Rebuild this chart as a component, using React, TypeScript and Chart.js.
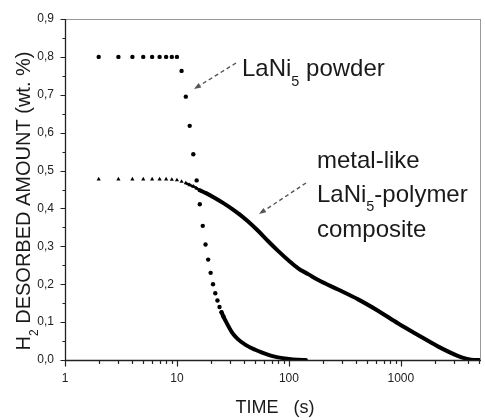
import React, { useEffect, useRef } from 'react';
import { Chart, registerables } from 'chart.js';

Chart.register(...registerables);

// ---- Data ----
const powderTime = [2, 3, 4, 5, 6, 7, 8, 9, 10, 11, 12, 13, 14, 15, 16, 17, 18, 19, 20, 21, 22, 23, 24, 25, 26, 27, 31, 35, 41, 50, 57, 70, 80, 100, 120, 142];
const powderAmount = [0.8, 0.8, 0.8, 0.8, 0.8, 0.8, 0.8, 0.8, 0.8, 0.763, 0.695, 0.618, 0.543, 0.474, 0.411, 0.354, 0.305, 0.265, 0.23, 0.2, 0.176, 0.157, 0.14, 0.126, 0.115, 0.105, 0.073, 0.055, 0.04, 0.027, 0.02, 0.011, 0.007, 0.003, 0.001, 0.0];

const compositeTime = [2, 3, 4, 5, 6, 7, 8, 9, 10, 11, 12, 13, 14, 15, 16, 18, 22, 26, 31, 36, 43, 53, 65, 80, 100, 121, 150, 183, 275, 415, 625, 940, 1420, 2140, 3220, 3900, 4500, 5000];
const compositeAmount = [0.477, 0.477, 0.477, 0.477, 0.477, 0.477, 0.477, 0.476, 0.475, 0.471, 0.467, 0.462, 0.458, 0.453, 0.448, 0.441, 0.427, 0.414, 0.399, 0.385, 0.366, 0.341, 0.314, 0.288, 0.262, 0.242, 0.226, 0.211, 0.186, 0.16, 0.13, 0.097, 0.066, 0.036, 0.011, 0.003, 0.0, 0.0];

const xMajorTicks = [1, 10, 100, 1000];
const yTickValues = [0, 0.1, 0.2, 0.3, 0.4, 0.5, 0.6, 0.7, 0.8, 0.9];

const X_MIN = 1;
const X_MAX = 5200;
const Y_MIN = 0;
const Y_MAX = 0.9;

const xAxisTitle = 'TIME   (s)';
const yAxisTitle: [string, boolean][] = [['H', false], ['2', true], [' DESORBED AMOUNT (wt. %)', false]];
const powderLabel: [string, boolean][][] = [[['LaNi', false], ['5', true], [' powder', false]]];
const compositeLabel: [string, boolean][][] = [
  [['metal-like', false]],
  [['LaNi', false], ['5', true], ['-polymer', false]],
  [['composite', false]],
];

const FONT = '"Liberation Sans", Arial, Helvetica, sans-serif';

function drawRich(ctx: CanvasRenderingContext2D, parts: [string, boolean][], x: number, y: number, size: number) {
  let cx = x;
  for (const [t, sub] of parts) {
    const s = sub ? size * 0.6 : size;
    ctx.font = `${s}px ${FONT}`;
    ctx.fillText(t, cx, sub ? y + size * 0.4 : y);
    cx += ctx.measureText(t).width;
  }
  return cx - x;
}

function richWidth(ctx: CanvasRenderingContext2D, parts: [string, boolean][], size: number) {
  let w = 0;
  for (const [t, sub] of parts) {
    ctx.font = `${sub ? size * 0.6 : size}px ${FONT}`;
    w += ctx.measureText(t).width;
  }
  return w;
}

function dashedArrow(ctx: CanvasRenderingContext2D, x1: number, y1: number, x2: number, y2: number) {
  const ang = Math.atan2(y2 - y1, x2 - x1);
  const headLen = 7;
  const bx = x2 - Math.cos(ang) * headLen;
  const by = y2 - Math.sin(ang) * headLen;
  ctx.save();
  ctx.strokeStyle = '#555';
  ctx.fillStyle = '#555';
  ctx.lineWidth = 1.4;
  ctx.setLineDash([4, 3]);
  ctx.beginPath();
  ctx.moveTo(x1, y1);
  ctx.lineTo(bx, by);
  ctx.stroke();
  ctx.setLineDash([]);
  ctx.beginPath();
  ctx.moveTo(x2, y2);
  ctx.lineTo(bx + Math.sin(ang) * 2.6, by - Math.cos(ang) * 2.6);
  ctx.lineTo(bx - Math.sin(ang) * 2.6, by + Math.cos(ang) * 2.6);
  ctx.closePath();
  ctx.fill();
  ctx.restore();
}

const decorPlugin = {
  id: 'decor',
  afterDatasetsDraw(chart: any) {
    const ctx: CanvasRenderingContext2D = chart.ctx;
    const { left, right, top, bottom } = chart.chartArea;
    const xs = chart.scales.x;
    const ys = chart.scales.y;
    ctx.save();
    // frame
    ctx.strokeStyle = '#999';
    ctx.lineWidth = 1;
    ctx.beginPath();
    ctx.moveTo(left, top + 0.5);
    ctx.lineTo(right, top + 0.5);
    ctx.moveTo(right - 0.5, top);
    ctx.lineTo(right - 0.5, bottom);
    ctx.stroke();
    ctx.strokeStyle = '#222';
    ctx.lineWidth = 1.3;
    ctx.beginPath();
    ctx.moveTo(left + 0.5, top);
    ctx.lineTo(left + 0.5, bottom + 0.5);
    ctx.lineTo(right, bottom + 0.5);
    ctx.stroke();
    // y ticks
    ctx.lineWidth = 1.2;
    ctx.beginPath();
    for (let i = 0; i <= 18; i++) {
      const v = i * 0.05;
      const py = Math.round(ys.getPixelForValue(v)) + 0.5;
      const len = i % 2 === 0 ? 5 : 3;
      ctx.moveTo(left + 0.5 - len, py);
      ctx.lineTo(left + 0.5, py);
    }
    // x ticks
    for (let d = 1; d <= 1000; d *= 10) {
      for (let m = 1; m <= 9; m++) {
        const v = d * m;
        if (v > X_MAX) break;
        const px = Math.round(xs.getPixelForValue(v)) + 0.5;
        const len = m === 1 ? 6 : 3.5;
        ctx.moveTo(px, bottom + 0.5);
        ctx.lineTo(px, bottom + 0.5 + len);
      }
    }
    ctx.stroke();

    // axis titles
    ctx.fillStyle = '#1a1a1a';
    ctx.textBaseline = 'alphabetic';
    ctx.textAlign = 'left';
    ctx.font = `18px ${FONT}`;
    const tw = ctx.measureText(xAxisTitle).width;
    ctx.fillText(xAxisTitle, (left + right) / 2 - tw / 2 + 2, 413);

    ctx.save();
    ctx.translate(30, 201);
    ctx.rotate(-Math.PI / 2);
    const yw = richWidth(ctx, yAxisTitle, 20);
    drawRich(ctx, yAxisTitle, -yw / 2, 0, 20);
    ctx.restore();

    // annotations
    drawRich(ctx, powderLabel[0], 242, 76, 24);
    const baselines = [167.5, 201.7, 236.5];
    compositeLabel.forEach((line, i) => drawRich(ctx, line, 317, baselines[i], 24));
    dashedArrow(ctx, 236, 63, 194, 89);
    dashedArrow(ctx, 306, 183, 259, 214);
    ctx.restore();
  },
};

export default function App() {
  const canvasRef = useRef<HTMLCanvasElement | null>(null);

  useEffect(() => {
    if (!canvasRef.current) return;
    const powderData = powderTime.map((t, i) => ({ x: t, y: powderAmount[i] }));
    const compositeData = compositeTime.map((t, i) => ({ x: t, y: compositeAmount[i] }));
    const chart = new Chart(canvasRef.current, {
      type: 'line',
      data: {
        datasets: [
          {
            label: 'LaNi5 powder',
            data: powderData,
            borderColor: '#000',
            backgroundColor: '#000',
            borderWidth: 4,
            pointStyle: 'circle',
            pointRadius: (c: any) => (c.raw && c.raw.x <= 26 ? 2.2 : 0),
            pointBorderWidth: 0,
            cubicInterpolationMode: 'monotone',
            borderCapStyle: 'round',
            segment: {
              borderColor: (c: any) => (c.p0.parsed.x >= 25 ? '#000' : 'rgba(0,0,0,0)'),
            },
          },
          {
            label: 'metal-like LaNi5-polymer composite',
            data: compositeData,
            borderColor: '#000',
            backgroundColor: '#000',
            borderWidth: 4,
            pointStyle: 'triangle',
            pointRadius: (c: any) => (c.raw && c.raw.x <= 16 ? 2.4 : 0),
            pointBorderWidth: 0,
            cubicInterpolationMode: 'monotone',
            borderCapStyle: 'round',
            segment: {
              borderColor: (c: any) => (c.p0.parsed.x >= 12 ? '#000' : 'rgba(0,0,0,0)'),
              borderWidth: (c: any) => (c.p0.parsed.x < 16 ? 2.5 : 4),
            },
          },
        ],
      } as any,
      options: {
        responsive: false,
        animation: false,
        events: [],
        layout: { padding: { top: 19, right: 2, left: 0, bottom: 0 } },
        plugins: { legend: { display: false }, tooltip: { enabled: false }, title: { display: false } },
        scales: {
          x: {
            type: 'logarithmic',
            min: X_MIN,
            max: X_MAX,
            grid: { display: false, drawTicks: false },
            border: { display: false },
            afterBuildTicks: (s: any) => {
              s.ticks = xMajorTicks.map((v) => ({ value: v }));
            },
            afterFit: (s: any) => {
              s.height = 60;
            },
            ticks: {
              autoSkip: false,
              maxRotation: 0,
              padding: 11,
              color: '#222',
              font: { family: FONT, size: 12 },
              callback: (v: any) => String(v),
            },
          },
          y: {
            type: 'linear',
            min: Y_MIN,
            max: Y_MAX,
            grid: { display: false, drawTicks: false },
            border: { display: false },
            afterBuildTicks: (s: any) => {
              s.ticks = yTickValues.map((v) => ({ value: v }));
            },
            afterFit: (s: any) => {
              s.width = 65;
            },
            ticks: {
              padding: 11,
              color: '#222',
              font: { family: FONT, size: 12 },
              callback: (v: any) => Number(v).toFixed(1).replace('.', ','),
            },
          },
        },
      } as any,
      plugins: [decorPlugin],
    });
    return () => chart.destroy();
  }, []);

  return (
    <div style={{ position: 'fixed', left: 0, top: 0, width: 485, height: 420, background: '#fff' }}>
      <canvas ref={canvasRef} width={485} height={420} style={{ display: 'block' }} />
    </div>
  );
}
